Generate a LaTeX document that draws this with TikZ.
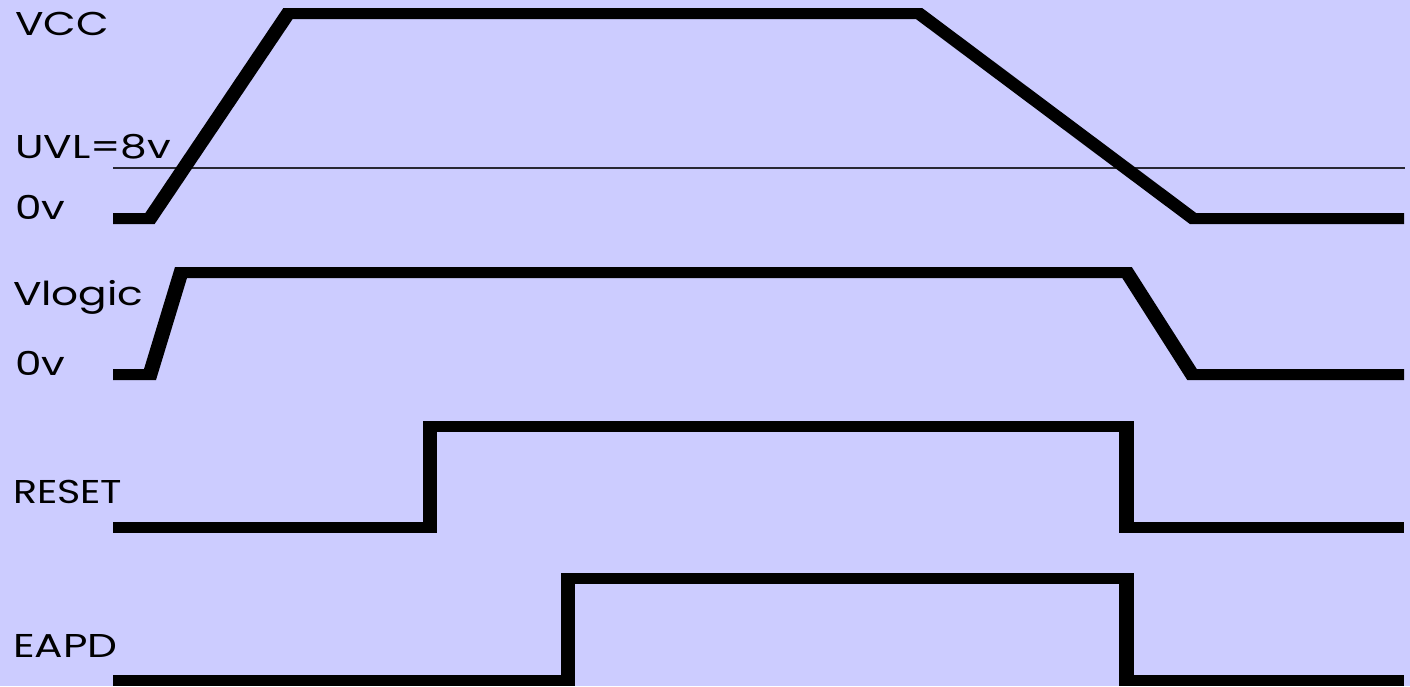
\documentclass[tikz,border=0pt]{standalone}
\usepackage{graphicx}
\usepackage{fontspec}
\setmainfont{Poppins}
\definecolor{bgc}{RGB}{204,204,255}
\definecolor{thin}{RGB}{40,40,50}
\newcommand{\widetxt}[1]{\scalebox{1.28}[1]{#1}}
\tikzset{
  lbl/.style={anchor=base west, inner sep=0pt, outer sep=0pt, font=\fontsize{33}{40}\selectfont, text=black},
  wave/.style={line width=11pt, line join=miter, line cap=butt, draw=black},
  uvl/.style={line width=1.2pt, draw=thin}
}
\begin{document}
\begin{tikzpicture}[x=1pt,y=-1pt]
\fill[bgc] (0,0) rectangle (1410,686);
\useasboundingbox (0,0) rectangle (1410,686);
% labels
\node[lbl] (vcc) at (15,35) {\widetxt{VCC}};
\node[lbl] (uvltxt) at (15,158) {\widetxt{UVL=8v}};
\node[lbl] (zero1) at (15,219) {\widetxt{0v}};
\node[lbl] (vlogic) at (13,305) {\widetxt{Vlogic}};
\node[lbl] (zero2) at (15,375) {\widetxt{0v}};
\node[lbl] (reset) at (13,503) {\scalebox{1.2}[1]{RESET}};
\node[lbl] (eapd) at (13,657) {\widetxt{EAPD}};
% threshold line
\coordinate (uvlA) at (113,168);
\coordinate (uvlB) at (1405,168);
\draw[uvl] (uvlA) -- (uvlB);
% waveforms (horizontally stretched canvas like the original)
\begin{scope}[transform canvas={xscale=1.36}, x=1pt/1.36, y=-1pt]
\draw[wave] (113,218.5) -- (150,218.5) -- (288,13.5) -- (919,13.5) -- (1193,218.5) -- (1404,218.5);
\draw[wave] (113,374.5) -- (150,374.5) -- (181,272.5) -- (1127,272.5) -- (1192,374.5) -- (1404,374.5);
\draw[wave] (113,527.5) -- (430,527.5) -- (430,426.5) -- (1126,426.5) -- (1126,527.5) -- (1404,527.5);
\draw[wave] (113,680.5) -- (568,680.5) -- (568,578.5) -- (1126,578.5) -- (1126,680.5) -- (1404,680.5);
\end{scope}
\end{tikzpicture}
\end{document}
